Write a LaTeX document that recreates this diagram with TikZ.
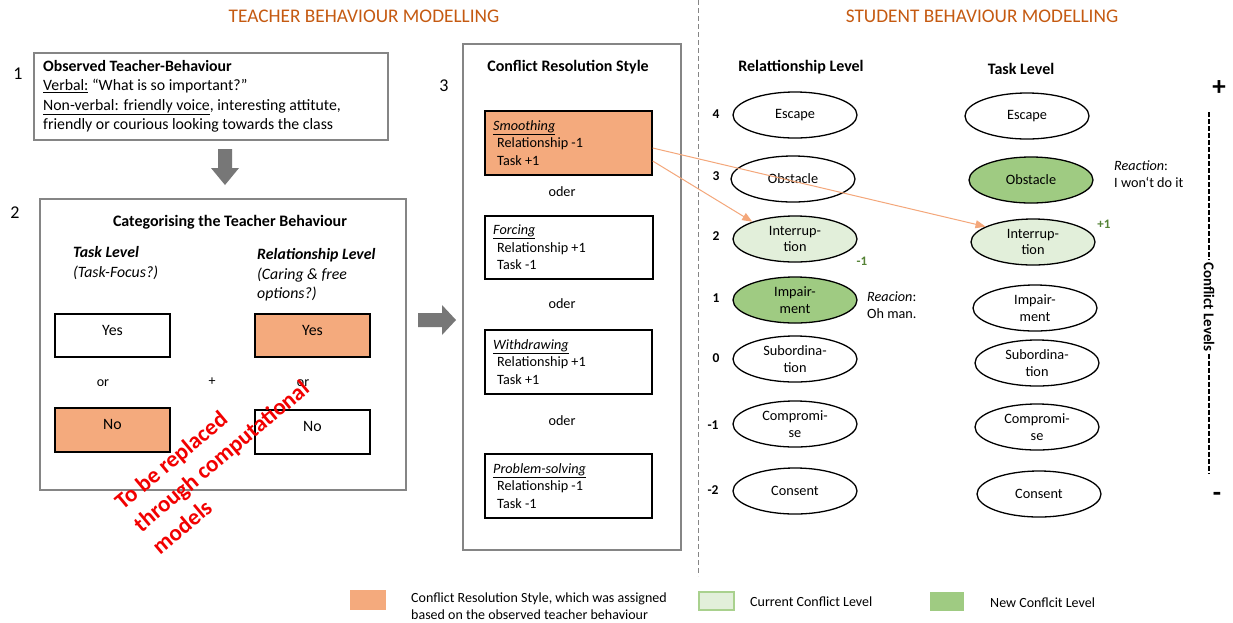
\documentclass[tikz,border=0pt]{standalone}
\usepackage{fontspec}
\setmainfont{Carlito}
\usetikzlibrary{arrows.meta,shapes.geometric,fit}
\definecolor{orfill}{HTML}{F4AA7D}
\definecolor{hdr}{HTML}{C55A11}
\definecolor{lgreen}{HTML}{E2EFDA}
\definecolor{lgreenb}{HTML}{A9D18E}
\definecolor{dgreen}{HTML}{9FCB82}
\definecolor{tgreen}{HTML}{548235}
\definecolor{boxgrey}{HTML}{858585}
\definecolor{arrgrey}{HTML}{777777}
\definecolor{redtxt}{HTML}{F20000}
\definecolor{orline}{HTML}{F4A77A}
\tikzset{
  outerbox/.style={draw=boxgrey, line width=1.5pt, inner sep=0pt},
  inbox/.style={draw=black, line width=1.3pt, inner sep=0pt},
  txt/.style={inner sep=0pt, font=\fontsize{15.8}{19.5}\selectfont},
  smalltxt/.style={inner sep=0pt, font=\fontsize{14.2}{17.5}\selectfont},
  ell/.style={ellipse, draw=black, line width=1.3pt, minimum width=124pt, minimum height=46pt, inner sep=0pt, align=center, font=\fontsize{14.3}{16.5}\selectfont},
  lvl/.style={inner sep=0pt, font=\bfseries\fontsize{13.5}{16}\selectfont},
  hdrtxt/.style={inner sep=0pt, text=hdr, font=\fontsize{19.3}{22}\selectfont},
  legtxt/.style={inner sep=0pt, anchor=west, align=left, font=\fontsize{14}{16.5}\selectfont},
  ortarrow/.style={draw=orline, line width=1pt, -{Triangle[length=10pt,width=8pt]}},
  numlab/.style={inner sep=0pt, font=\fontsize{18}{20}\selectfont},
  ttl/.style={inner sep=0pt, font=\bfseries\fontsize{16}{18}\selectfont},
}
\begin{document}
\begin{tikzpicture}[x=1pt,y=-1pt]
\useasboundingbox (0,0) rectangle (1233,622);
\fill[white] (0,0) rectangle (1233,622);

% headers and divider
\node[hdrtxt] (hteach) at (364,16) {TEACHER BEHAVIOUR MODELLING};
\node[hdrtxt] (hstud) at (982,16) {STUDENT BEHAVIOUR MODELLING};
\coordinate (divtop) at (698,0);
\coordinate (divbot) at (698,576);
\draw[boxgrey, line width=0.8pt, dash pattern=on 5pt off 3pt] (divtop) -- (divbot);

% box 1
\node[numlab] (n1) at (18,74) {1};
\node[outerbox, fit={(34,53) (388,140)}] (box1) {};
\node[txt, anchor=west, align=left] (t1) at (43,96.5) {\textbf{Observed Teacher-Behaviour}\\
\underline{Verbal:} “What is so important?”\\
\underline{Non-verbal: friendly voice}, interesting attitute,\\
friendly or courious looking towards the class};

% down block arrow
\fill[arrgrey] (218,149) -- (232,149) -- (232,168) -- (239,168) -- (225,185) -- (211,168) -- (218,168) -- cycle;

% box 2
\node[numlab] (n2) at (15,213) {2};
\node[outerbox, fit={(40,199) (406,490)}] (box2) {};
\node[ttl] (t2) at (230,222) {Categorising the Teacher Behaviour};
\node[txt, anchor=west, align=left, font=\fontsize{15.8}{19.5}\selectfont\itshape] (tl) at (73,263) {\textbf{Task Level}\\(Task-Focus?)};
\node[txt, anchor=west, align=left, font=\fontsize{15.8}{19.5}\selectfont\itshape] (rl) at (257,275) {\textbf{Relationship Level}\\(Caring \& free\\options?)};
\node[inbox, fit={(55,314) (170,357)}, txt] (yesL) {Yes};
\node[inbox, fit={(255,314) (370,357)}, fill=orfill, txt] (yesR) {Yes};
\node[inbox, fit={(55,408) (170,452)}, fill=orfill, txt] (noL) {No};
\node[inbox, fit={(255,410) (370,454)}, txt] (noR) {No};
\node[txt, font=\fontsize{14}{16}\selectfont] (orL) at (103,383) {or};
\node[txt, font=\fontsize{14}{16}\selectfont] (plus) at (212,382) {+};
\node[txt, font=\fontsize{14}{16}\selectfont] (orR) at (303,383) {or};
\node[rotate=40, align=left, inner sep=0pt, text=redtxt, font=\bfseries\fontsize{23}{29}\selectfont] (red) at (221,456) {To be replaced\\through computational\\models};

% right block arrow
\fill[arrgrey] (418,313) -- (442,313) -- (442,305) -- (456,320) -- (442,335) -- (442,327) -- (418,327) -- cycle;

% box 3
\node[numlab] (n3) at (444,86) {3};
\node[outerbox, fit={(463,44) (681,550)}] (box3) {};
\node[ttl] (t3) at (568,67) {Conflict Resolution Style};
\node[inbox, fill=orfill, fit={(485,111) (652,175)}] (smooth) {};
\node[smalltxt, anchor=west, align=left] (smootht) at (493,143) {\underline{\textit{Smoothing}}\\\hspace*{4pt}Relationship -1\\\hspace*{4pt}Task +1};
\node[smalltxt] (oder1) at (562,192) {oder};
\node[inbox, fit={(485,216) (653,279)}] (forcing) {};
\node[smalltxt, anchor=west, align=left] (forcingt) at (493,247.5) {\underline{\textit{Forcing}}\\\hspace*{4pt}Relationship +1\\\hspace*{4pt}Task -1};
\node[smalltxt] (oder2) at (562,304) {oder};
\node[inbox, fit={(485,330) (652,394)}] (withdr) {};
\node[smalltxt, anchor=west, align=left] (withdrt) at (493,362) {\underline{\textit{Withdrawing}}\\\hspace*{4pt}Relationship +1\\\hspace*{4pt}Task +1};
\node[smalltxt] (oder3) at (562,421) {oder};
\node[inbox, fit={(485,454) (652,518)}] (probl) {};
\node[smalltxt, anchor=west, align=left] (problt) at (493,486) {\underline{\textit{Problem-solving}}\\\hspace*{4pt}Relationship -1\\\hspace*{4pt}Task -1};

% student side headings
\node[ttl] (hrel) at (801,67) {Relattionship Level};
\node[ttl] (htask) at (1021,69) {Task Level};

% level numbers
\node[lvl] (l4) at (716,114) {4};
\node[lvl] (l3) at (716,176) {3};
\node[lvl] (l2) at (716,236) {2};
\node[lvl] (l1) at (716,298) {1};
\node[lvl] (l0) at (716,358) {0};
\node[lvl] (lm1) at (713,425) {-1};
\node[lvl] (lm2) at (713,490) {-2};

% relationship ellipses
\node[ell] (rEsc) at (795,115) {Escape};
\node[ell] (rObs) at (793,179) {Obstacle};
\node[ell, fill=lgreen] (rInt) at (795,239) {Interrup-\\tion};
\node[ell, fill=dgreen] (rImp) at (795,300) {Impair-\\ment};
\node[ell] (rSub) at (795,359) {Subordina-\\tion};
\node[ell] (rCom) at (795,424) {Compromi-\\se};
\node[ell] (rCon) at (795,491) {Consent};

% task ellipses
\node[ell] (tEsc) at (1027,116) {Escape};
\node[ell, fill=dgreen] (tObs) at (1031,180) {Obstacle};
\node[ell, fill=lgreen] (tInt) at (1033,242) {Interrup-\\tion};
\node[ell] (tImp) at (1035,308) {Impair-\\ment};
\node[ell] (tSub) at (1037,363) {Subordina-\\tion};
\node[ell] (tCom) at (1037,427) {Compromi-\\se};
\node[ell] (tCon) at (1039,494) {Consent};

% annotations
\node[lvl, text=tgreen, font=\bfseries\fontsize{13}{15}\selectfont] (m1) at (862,261) {-1};
\node[lvl, text=tgreen, font=\bfseries\fontsize{13}{15}\selectfont] (p1) at (1104,224) {+1};
\node[smalltxt, anchor=west, align=left] (reac1) at (867,305) {\textit{Reacion}:\\Oh man.};
\node[smalltxt, anchor=west, align=left] (reac2) at (1114,174) {\textit{Reaction}:\\I won‘t do it};

% conflict level axis
\node[numlab, font=\bfseries\fontsize{27}{27}\selectfont] (plusax) at (1219,88) {+};
\node[inner sep=2pt, rotate=-90, font=\bfseries\fontsize{15}{16}\selectfont] (clab) at (1209,307) {Conflict Levels};
\coordinate (axtop) at (1209,112);
\coordinate (axbot) at (1209,474);
\draw[line width=2.5pt, dash pattern=on 5pt off 2pt] (axtop) -- (clab.west);
\draw[line width=2.5pt, dash pattern=on 5pt off 2pt] (clab.east) -- (axbot);
\node[numlab, font=\bfseries\fontsize{27}{27}\selectfont] (minusax) at (1217,497) {-};

% orange connectors
\draw[ortarrow] ([yshift=-5pt]smooth.east) -- (tInt.162);
\draw[ortarrow] ([yshift=-18pt]smooth.east) -- (rInt.158);

% legend
\node[fill=orfill, inner sep=0pt, fit={(350,590) (386,610)}] (legor) {};
\node[legtxt] (legort) at (411,606) {Conflict Resolution Style, which was assigned\\based on the observed teacher behaviour};
\node[fill=lgreen, draw=lgreenb, line width=1.5pt, inner sep=0pt, fit={(699,592) (734,610)}] (leglg) {};
\node[legtxt] (leglgt) at (750,602) {Current Conflict Level};
\node[fill=dgreen, inner sep=0pt, fit={(930,592) (964,611)}] (legdg) {};
\node[legtxt] (legdgt) at (990,603) {New Conflcit Level};
\end{tikzpicture}
\end{document}
